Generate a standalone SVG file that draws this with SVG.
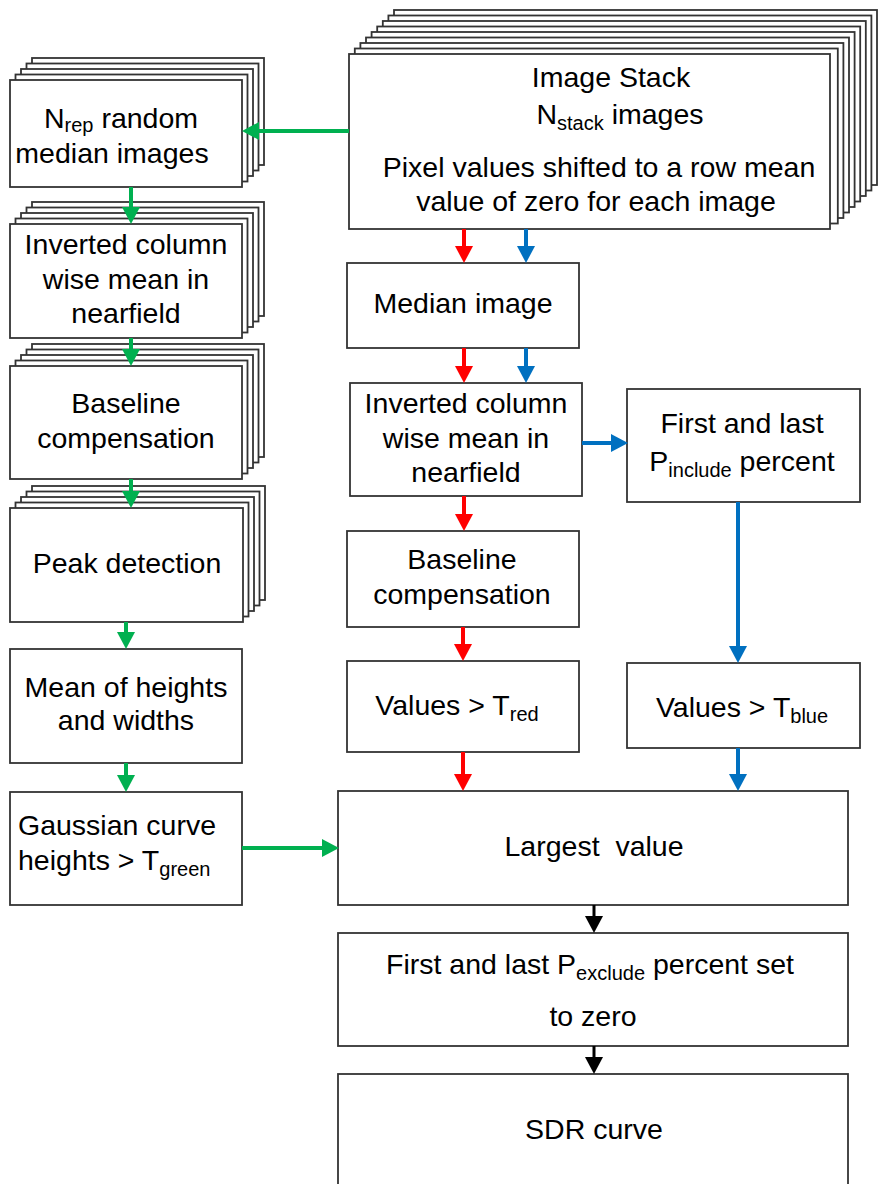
<svg xmlns="http://www.w3.org/2000/svg" width="883" height="1184" viewBox="0 0 883 1184">
<style>
.box{fill:#fff;stroke:#333;stroke-width:1.8}
.t{font-family:"Liberation Sans",Arial,sans-serif;font-size:28.5px;fill:#000;text-anchor:middle}
.l{text-anchor:start}
.s{font-size:20px}
.g{stroke:#00B050;stroke-width:4;fill:none}
.r{stroke:#FF0000;stroke-width:4;fill:none}
.b{stroke:#0070C0;stroke-width:4;fill:none}
.k{stroke:#000;stroke-width:3;fill:none}
</style>
<defs>
<marker id="ag" markerUnits="userSpaceOnUse" markerWidth="18" markerHeight="18" refX="2" refY="9" orient="auto" viewBox="0 0 18 18"><path d="M0,0 L17,9 L0,18 z" fill="#00B050"/></marker>
<marker id="ar" markerUnits="userSpaceOnUse" markerWidth="18" markerHeight="18" refX="2" refY="9" orient="auto" viewBox="0 0 18 18"><path d="M0,0 L17,9 L0,18 z" fill="#FF0000"/></marker>
<marker id="ab" markerUnits="userSpaceOnUse" markerWidth="18" markerHeight="18" refX="2" refY="9" orient="auto" viewBox="0 0 18 18"><path d="M0,0 L17,9 L0,18 z" fill="#0070C0"/></marker>
<marker id="ak" markerUnits="userSpaceOnUse" markerWidth="18" markerHeight="18" refX="2" refY="9" orient="auto" viewBox="0 0 18 18"><path d="M0,0 L17,9 L0,18 z" fill="#000"/></marker>
</defs>
<rect width="883" height="1184" fill="#fff"/>

<g id="image-stack">
<rect class="box" x="394" y="10" width="483" height="175"/>
<rect class="box" x="388.4" y="15.5" width="483" height="175"/>
<rect class="box" x="382.8" y="21" width="483" height="175"/>
<rect class="box" x="377.2" y="26.5" width="483" height="175"/>
<rect class="box" x="371.6" y="32" width="483" height="175"/>
<rect class="box" x="366" y="37.5" width="483" height="175"/>
<rect class="box" x="360.4" y="43" width="483" height="175"/>
<rect class="box" x="354.8" y="48.5" width="483" height="175"/>
<rect class="box" x="349" y="54" width="481" height="175"/>
<text class="t" x="611" y="87">Image Stack</text>
<text class="t" x="620" y="124">N<tspan class="s" dy="6">stack</tspan><tspan dy="-6"> images</tspan></text>
<text class="t" x="599" y="177">Pixel values shifted to a row mean</text>
<text class="t" x="596" y="211">value of zero for each image</text>
</g>

<g id="nrep-median">
<rect class="box" x="32" y="58" width="232" height="107"/>
<rect class="box" x="26.5" y="63.5" width="232" height="107"/>
<rect class="box" x="21" y="69" width="232" height="107"/>
<rect class="box" x="15.5" y="74.5" width="232" height="107"/>
<rect class="box" x="10" y="80" width="232" height="107"/>
<text class="t" x="121" y="128">N<tspan class="s" dy="4">rep</tspan><tspan dy="-4"> random</tspan></text>
<text class="t" x="112" y="163">median images</text>
</g>

<g id="inverted-left">
<rect class="box" x="32" y="202" width="232" height="114"/>
<rect class="box" x="26.5" y="207.5" width="232" height="114"/>
<rect class="box" x="21" y="213" width="232" height="114"/>
<rect class="box" x="15.5" y="218.5" width="232" height="114"/>
<rect class="box" x="10" y="224" width="232" height="114"/>
<text class="t" x="126" y="254">Inverted column</text>
<text class="t" x="126" y="289">wise mean in</text>
<text class="t" x="126" y="323">nearfield</text>
</g>

<g id="baseline-left">
<rect class="box" x="32" y="344" width="232" height="113"/>
<rect class="box" x="26.5" y="349.5" width="232" height="113"/>
<rect class="box" x="21" y="355" width="232" height="113"/>
<rect class="box" x="15.5" y="360.5" width="232" height="113"/>
<rect class="box" x="10" y="366" width="232" height="113"/>
<text class="t" x="126" y="413">Baseline</text>
<text class="t" x="126" y="448">compensation</text>
</g>

<g id="peak-detection">
<rect class="box" x="32" y="486" width="233" height="114"/>
<rect class="box" x="26.5" y="491.5" width="233" height="114"/>
<rect class="box" x="21" y="497" width="233" height="114"/>
<rect class="box" x="15.5" y="502.5" width="233" height="114"/>
<rect class="box" x="10" y="508" width="233" height="114"/>
<text class="t" x="127" y="573">Peak detection</text>
</g>

<g id="mean-heights">
<rect class="box" x="10" y="649" width="232" height="114"/>
<text class="t" x="126" y="697">Mean of heights</text>
<text class="t" x="126" y="730">and widths</text>
</g>

<g id="gaussian">
<rect class="box" x="10" y="792" width="232" height="113"/>
<text class="t l" x="18" y="835">Gaussian curve</text>
<text class="t l" x="18" y="870">heights &gt; T<tspan class="s" dy="6">green</tspan></text>
</g>

<g id="median-image">
<rect class="box" x="347" y="263" width="232" height="85"/>
<text class="t" x="463" y="313">Median image</text>
</g>

<g id="inverted-mid">
<rect class="box" x="350" y="383" width="232" height="113"/>
<text class="t" x="466" y="413">Inverted column</text>
<text class="t" x="466" y="448">wise mean in</text>
<text class="t" x="466" y="482">nearfield</text>
</g>

<g id="pinclude">
<rect class="box" x="627" y="389" width="233" height="113"/>
<text class="t" x="742" y="433">First and last</text>
<text class="t" x="742" y="471">P<tspan class="s" dy="6">include</tspan><tspan dy="-6"> percent</tspan></text>
</g>

<g id="baseline-mid">
<rect class="box" x="347" y="531" width="232" height="96"/>
<text class="t" x="462" y="569">Baseline</text>
<text class="t" x="462" y="604">compensation</text>
</g>

<g id="values-red">
<rect class="box" x="347" y="661" width="232" height="91"/>
<text class="t" x="457" y="715">Values &gt; T<tspan class="s" dy="6">red</tspan></text>
</g>

<g id="values-blue">
<rect class="box" x="627" y="663" width="233" height="85"/>
<text class="t" x="742" y="717">Values &gt; T<tspan class="s" dy="6">blue</tspan></text>
</g>

<g id="largest-value">
<rect class="box" x="338" y="791" width="510" height="114"/>
<text class="t" x="594" y="856" xml:space="preserve">Largest  value</text>
</g>

<g id="pexclude">
<rect class="box" x="338" y="933" width="510" height="113"/>
<text class="t" x="590" y="974">First and last P<tspan class="s" dy="6">exclude</tspan><tspan dy="-6"> percent set</tspan></text>
<text class="t" x="593" y="1026">to zero</text>
</g>

<g id="sdr-curve">
<rect class="box" x="338" y="1074" width="510" height="130"/>
<text class="t" x="594" y="1139">SDR curve</text>
</g>

<g id="connectors">
<path class="g" d="M349,131 H257" marker-end="url(#ag)"/>
<path class="g" d="M131,187 V209" marker-end="url(#ag)"/>
<path class="g" d="M131,338 V351" marker-end="url(#ag)"/>
<path class="g" d="M131,479 V493" marker-end="url(#ag)"/>
<path class="g" d="M126,622 V634" marker-end="url(#ag)"/>
<path class="g" d="M126,763 V777" marker-end="url(#ag)"/>
<path class="g" d="M242,848 H324" marker-end="url(#ag)"/>
<path class="r" d="M464,229 V248" marker-end="url(#ar)"/>
<path class="r" d="M464,348 V368" marker-end="url(#ar)"/>
<path class="r" d="M464,496 V516" marker-end="url(#ar)"/>
<path class="r" d="M463,627 V646" marker-end="url(#ar)"/>
<path class="r" d="M463,752 V776" marker-end="url(#ar)"/>
<path class="b" d="M526,229 V248" marker-end="url(#ab)"/>
<path class="b" d="M526,348 V368" marker-end="url(#ab)"/>
<path class="b" d="M582,443 H613" marker-end="url(#ab)"/>
<path class="b" d="M738,502 V648" marker-end="url(#ab)"/>
<path class="b" d="M738,748 V776" marker-end="url(#ab)"/>
<path class="k" d="M594,905 V918" marker-end="url(#ak)"/>
<path class="k" d="M594,1046 V1059" marker-end="url(#ak)"/>
</g>
</svg>
